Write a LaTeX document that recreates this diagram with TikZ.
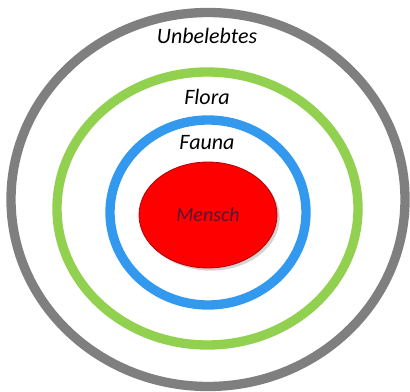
\documentclass[tikz,border=0pt]{standalone}
\usepackage{fontspec}
\setmainfont{Carlito}
\usetikzlibrary{shapes.geometric, shadows, positioning}

\definecolor{ringgray}{HTML}{7F7F7F}
\definecolor{ringgreen}{HTML}{92D050}
\definecolor{ringblue}{HTML}{3399EE}
\definecolor{menschred}{HTML}{FF0000}
\definecolor{menschtext}{HTML}{5A1430}

\tikzset{
  ring/.style={line width=7pt},
  ringlabel/.style={font=\fontsize{16.5}{19}\selectfont\itshape, inner sep=0pt},
}

\begin{document}
\begin{tikzpicture}[x=0.75pt, y=0.75pt]
        \useasboundingbox (0,0) rectangle (410,392);
        % Rings from outside to inside
        \draw[ring, ringgray] (208,192.5) ellipse [x radius=197, y radius=187];
        \draw[ring, ringgreen] (207.5,183.5) ellipse [x radius=150.5, y radius=136.5];
        \draw[ring, ringblue] (208,179.5) ellipse [x radius=98, y radius=92.5];
        % Core
        \node[ellipse, fill=menschred, draw=red!70!black, line width=0.6pt,
              minimum width=103.5pt, minimum height=79.5pt, inner sep=0pt,
              drop shadow={shadow xshift=2pt, shadow yshift=-2pt, opacity=0.35},
              font=\fontsize{15}{18}\selectfont\itshape, text=menschtext]
              (mensch) at (208,177) {Mensch};
        % Labels
        \node[ringlabel] (unbelebtes) at (207,356) {Unbelebtes};
        \node[ringlabel] (flora) at (207,295) {Flora};
        \node[ringlabel] (fauna) at (207,249) {Fauna};
    \end{tikzpicture}
\end{document}
